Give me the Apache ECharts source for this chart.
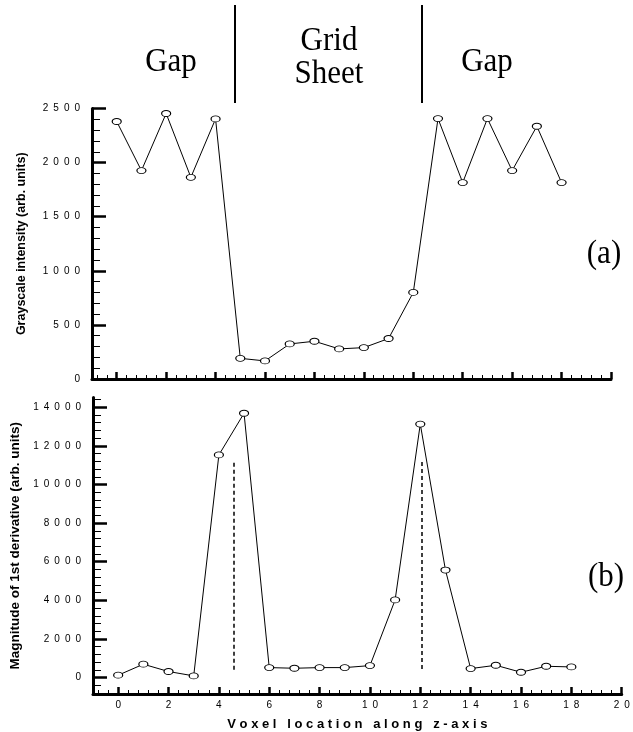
<!DOCTYPE html>
<html>
<head>
<meta charset="utf-8">
<script src="https://cdn.jsdelivr.net/npm/echarts@6/dist/echarts.min.js"></script>
<style>
  html, body { margin: 0; padding: 0; background: #fff; }
  #chart { width: 633px; height: 732px; }
</style>
</head>
<body>
<div id="chart"></div>
<script>
// voxel index along z
var voxel = [0, 1, 2, 3, 4, 5, 6, 7, 8, 9, 10, 11, 12, 13, 14, 15, 16, 17, 18];
// (a) grayscale intensity
var grayscale = [2380, 1926, 2454, 1864, 2404, 191, 167, 324, 349, 278, 290, 374, 800,
                 2407, 1815, 2407, 1926, 2336, 1815];
// (b) magnitude of 1st derivative
var derivative = [124, 693, 314, 88, 11530, 13690, 517, 483, 517, 517, 621, 4020, 13130,
                  5570, 466, 638, 276, 586, 552];

// dashed edge markers in (b)
var edgeX = [4.6, 12.05];
var edgeFrom = [400, 450];
var edgeTo = [11150, 11230];
// region boundaries at top
var boundaryX = [4.64, 12.07];
var regionNames = ['Gap', 'Grid\nSheet', 'Gap'];

var xMajor = [0, 2, 4, 6, 8, 10, 12, 14, 16, 18, 20];
var yMajorA = [0, 500, 1000, 1500, 2000, 2500];
var yMajorB = [0, 2000, 4000, 6000, 8000, 10000, 12000, 14000];

function steps(from, to, step) {
    var out = [];
    for (var v = from; v <= to + 1e-9; v += step) {
        out.push(Math.round(v * 10) / 10);
    }
    return out;
}
var xMinor = steps(-0.8, 20, 0.4);
var yMinorA = steps(0, 2500, 100);
var yMinorB = steps(-800, 14400, 400);

var FONT = 'Liberation Sans';
var SERIF = '31px Liberation Serif';

function spaced(v) {
    return String(v).split('').join('\u2002');
}

function pairs(xs, ys) {
    return xs.map(function (x, i) { return [x, ys[i]]; });
}

function mainX(grid, showLabels) {
    return {
        gridIndex: grid, type: 'value', min: -1, max: 20, position: 'bottom',
        axisLine: { show: true, onZero: false, lineStyle: { color: '#000', width: 3 } },
        axisTick: { show: true, inside: true, length: 7, customValues: xMajor,
                    lineStyle: { color: '#000', width: 2.5 } },
        axisLabel: { show: showLabels, customValues: xMajor, formatter: spaced, margin: 6,
                     color: '#000', fontSize: 10, fontFamily: FONT },
        splitLine: { show: false }
    };
}
function minorX(grid) {
    return {
        gridIndex: grid, type: 'value', min: -1, max: 20, position: 'bottom',
        axisLine: { show: false, onZero: false },
        axisTick: { show: true, inside: true, length: 4, customValues: xMinor,
                    lineStyle: { color: '#000', width: 1 } },
        axisLabel: { show: false },
        splitLine: { show: false }
    };
}
function mainY(grid, min, max, major, name, nameSize) {
    return {
        gridIndex: grid, type: 'value', min: min, max: max, position: 'left',
        axisLine: { show: true, onZero: false, lineStyle: { color: '#000', width: 3 } },
        axisTick: { show: true, inside: true, length: 14, customValues: major,
                    lineStyle: { color: '#000', width: 2.5 } },
        axisLabel: { show: true, customValues: major, formatter: spaced, margin: 12,
                     color: '#000', fontSize: 10, fontFamily: FONT },
        splitLine: { show: false },
        name: name, nameLocation: 'middle', nameGap: 64,
        nameTextStyle: { color: '#000', fontSize: nameSize, fontWeight: 'bold', fontFamily: FONT }
    };
}
function minorY(grid, min, max, minor) {
    return {
        gridIndex: grid, type: 'value', min: min, max: max, position: 'left',
        axisLine: { show: false, onZero: false },
        axisTick: { show: true, inside: true, length: 8, customValues: minor,
                    lineStyle: { color: '#000', width: 1 } },
        axisLabel: { show: false },
        splitLine: { show: false }
    };
}

var xAxes = [mainX(0, false), minorX(0), mainX(1, true), minorX(1),
             { gridIndex: 2, type: 'value', min: -1, max: 20, show: false }];
xAxes[2].name = 'V o x e l   l o c a t i o n   a l o n g   z - a x i s';
xAxes[2].nameLocation = 'middle';
xAxes[2].nameGap = 24;
xAxes[2].nameTextStyle = { color: '#000', fontSize: 13, fontWeight: 'bold', fontFamily: FONT };

var yAxes = [mainY(0, 0, 2500, yMajorA, 'Grayscale intensity (arb. units)', 12.5),
             minorY(0, 0, 2500, yMinorA),
             mainY(1, -850, 14500, yMajorB, 'Magnitude of 1st derivative (arb. units)', 13.5),
             minorY(1, -850, 14500, yMinorB),
             { gridIndex: 2, type: 'value', min: 0, max: 1, show: false }];
yAxes[2].nameGap = 67;

var lineStyle = { color: '#000', width: 1 };
var itemStyle = { color: '#fff', borderColor: '#000', borderWidth: 1 };

function serifText(text, x, y) {
    return {
        type: 'text', x: x, y: y, scaleY: 1.1, silent: true,
        style: { text: text, font: SERIF, lineHeight: 30, fill: '#000',
                 align: 'center', verticalAlign: 'middle' }
    };
}

var chart = echarts.init(document.getElementById('chart'), null, { renderer: 'canvas' });
chart.setOption({
    animation: false,
    backgroundColor: '#fff',
    grid: [
        { left: 92, top: 108.5, width: 519, height: 270.5 },
        { left: 93, top: 397.6, width: 528.7, height: 296.8 },
        { left: 93, top: 5, width: 528.7, height: 98 }
    ],
    xAxis: xAxes,
    yAxis: yAxes,
    series: [
        {
            type: 'line', xAxisIndex: 0, yAxisIndex: 0, data: pairs(voxel, grayscale),
            symbol: 'circle', symbolSize: [9, 6], lineStyle: lineStyle, itemStyle: itemStyle,
            silent: true
        },
        {
            type: 'line', xAxisIndex: 2, yAxisIndex: 2, data: pairs(voxel, derivative),
            symbol: 'circle', symbolSize: [9, 6], lineStyle: lineStyle, itemStyle: itemStyle,
            silent: true,
            markLine: {
                silent: true, symbol: ['none', 'none'], label: { show: false },
                lineStyle: { color: '#000', width: 1.5, type: [4, 3] },
                data: edgeX.map(function (x, i) {
                    return [{ coord: [x, edgeFrom[i]] }, { coord: [x, edgeTo[i]] }];
                })
            }
        },
        {
            type: 'line', xAxisIndex: 4, yAxisIndex: 4, data: [], silent: true,
            markLine: {
                silent: true, symbol: ['none', 'none'], label: { show: false },
                lineStyle: { color: '#000', width: 2, type: 'solid' },
                data: boundaryX.map(function (x) {
                    return [{ coord: [x, 0] }, { coord: [x, 1] }];
                })
            }
        }
    ],
    graphic: [
        serifText(regionNames[0], 171, 62),
        serifText(regionNames[1], 329, 58),
        serifText(regionNames[2], 487, 62),
        serifText('(a)', 604, 254),
        serifText('(b)', 606, 577)
    ]
});
</script>
</body>
</html>
